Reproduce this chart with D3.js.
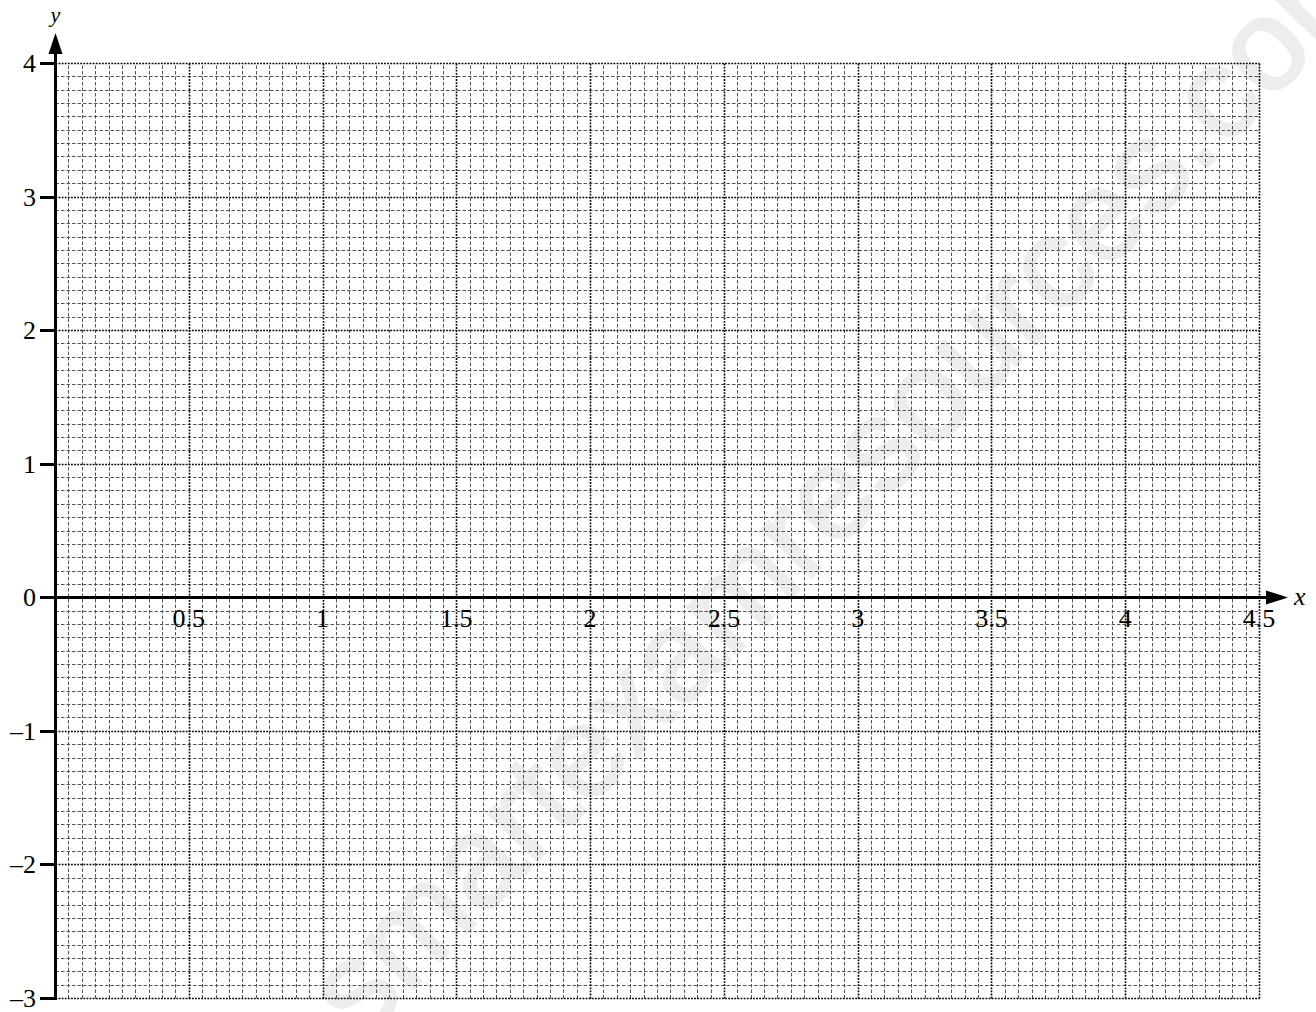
<!DOCTYPE html>
<html>
<head>
<meta charset="utf-8">
<script src="https://cdn.jsdelivr.net/npm/d3@7"></script>
<style>
  body { margin: 0; background: #fff; }
  svg { display: block; }
</style>
</head>
<body>
<div id="viz"></div>
<script>
//-------The "Data"-----------
var xDomain = [0, 4.5];
var yDomain = [-3, 4];
var xTickValues = [0.5, 1, 1.5, 2, 2.5, 3, 3.5, 4, 4.5];
var xTickLabels = ["0.5", "1", "1.5", "2", "2.5", "3", "3.5", "4", "4.5"];
var yTickValues = [-3, -2, -1, 0, 1, 2, 3, 4];
var yTickLabels = ["–3", "–2", "–1", "0", "1", "2", "3", "4"];
var minorStepX = 0.05, majorStepX = 0.5;
var minorStepY = 0.1, majorStepY = 1;
var watermark = "smartexamresources.com";

//---------------------------------
var width = 1316,
    height = 1012;
var serif = "'Liberation Serif', 'Times New Roman', Times, serif";

var svg = d3.select("#viz")
  .append("svg")
    .attr("width", width)
    .attr("height", height);

var xScale = d3.scaleLinear().domain(xDomain).range([55, 1259]);
var yScale = d3.scaleLinear().domain(yDomain).range([998, 63]);
// snap to pixel centres so the 1px dashes stay crisp
var px = v => Math.round(xScale(v)) + 0.5;
var py = v => Math.round(yScale(v)) + 0.5;

//------Watermark (under the grid)-----------
svg.append("text")
  .attr("transform", "translate(362,1042) rotate(-46)")
  .style("font-family", "'Liberation Sans', Arial, sans-serif")
  .style("font-size", "129px")
  .attr("fill", "#ededed")
  .attr("stroke", "#ededed")
  .attr("stroke-width", 3)
  .text(watermark);

//------Grid-----------
var grid = svg.append("g").attr("id", "grid");

var nX = Math.round((xDomain[1] - xDomain[0]) / minorStepX);
var nY = Math.round((yDomain[1] - yDomain[0]) / minorStepY);
var perMajorX = Math.round(majorStepX / minorStepX);
var perMajorY = Math.round(majorStepY / minorStepY);

var vLines = d3.range(1, nX + 1).map(i => ({v: xDomain[0] + i * minorStepX, major: i % perMajorX === 0}));
var hLines = d3.range(0, nY + 1).map(i => ({v: yDomain[0] + i * minorStepY, major: i % perMajorY === 0}));

function styleLine(sel) {
  sel.attr("stroke", d => d.major ? "#000" : "#555")
     .attr("stroke-width", d => d.major ? 1.6 : 1)
     .attr("stroke-dasharray", d => d.major ? "1.8,1.3" : "3.5,2")
     .attr("fill", "none");
}

grid.selectAll("line.h")
  .data(hLines.filter(d => !d.major))
  .enter().append("line")
    .attr("class", "h")
    .attr("x1", px(xDomain[0])).attr("x2", px(xDomain[1]))
    .attr("y1", d => py(d.v)).attr("y2", d => py(d.v))
    .call(styleLine);

grid.selectAll("line.v")
  .data(vLines.filter(d => !d.major))
  .enter().append("line")
    .attr("class", "v")
    .attr("x1", d => px(d.v)).attr("x2", d => px(d.v))
    .attr("y1", py(yDomain[0])).attr("y2", py(yDomain[1]))
    .call(styleLine);

grid.selectAll("line.hm")
  .data(hLines.filter(d => d.major))
  .enter().append("line")
    .attr("class", "hm")
    .attr("x1", px(xDomain[0])).attr("x2", px(xDomain[1]))
    .attr("y1", d => py(d.v)).attr("y2", d => py(d.v))
    .call(styleLine);

grid.selectAll("line.vm")
  .data(vLines.filter(d => d.major))
  .enter().append("line")
    .attr("class", "vm")
    .attr("x1", d => px(d.v)).attr("x2", d => px(d.v))
    .attr("y1", py(yDomain[0])).attr("y2", py(yDomain[1]))
    .call(styleLine);

//------Axes-----------
var axisG = svg.append("g").attr("id", "axes");
var x0 = px(0), y0 = py(0);

// y axis line + arrow
axisG.append("line")
  .attr("x1", x0).attr("x2", x0)
  .attr("y1", py(yDomain[0]) + 1.5).attr("y2", 50)
  .attr("stroke", "#000").attr("stroke-width", 3);
axisG.append("path")
  .attr("d", "M" + x0 + ",33 L" + (x0 - 7) + ",54 L" + (x0 + 7) + ",54 Z")
  .attr("fill", "#000");

// x axis line + arrow
axisG.append("line")
  .attr("x1", 40).attr("x2", 1270)
  .attr("y1", y0).attr("y2", y0)
  .attr("stroke", "#000").attr("stroke-width", 3);
axisG.append("path")
  .attr("d", "M1288," + y0 + " L1266," + (y0 - 7) + " L1266," + (y0 + 7) + " Z")
  .attr("fill", "#000");

// y ticks
axisG.selectAll("line.ytick")
  .data(yTickValues)
  .enter().append("line")
    .attr("class", "ytick")
    .attr("x1", 40).attr("x2", x0)
    .attr("y1", d => py(d)).attr("y2", d => py(d))
    .attr("stroke", "#000").attr("stroke-width", 3);

axisG.selectAll("text.ylab")
  .data(yTickValues)
  .enter().append("text")
    .attr("class", "ylab")
    .attr("x", 36)
    .attr("y", d => yScale(d) + 9)
    .attr("text-anchor", "end")
    .style("font-family", serif)
    .style("font-size", "26px")
    .text((d, i) => yTickLabels[i]);

axisG.selectAll("text.xlab")
  .data(xTickValues)
  .enter().append("text")
    .attr("class", "xlab")
    .attr("x", d => xScale(d))
    .attr("y", y0 + 29)
    .attr("text-anchor", "middle")
    .style("font-family", serif)
    .style("font-size", "26px")
    .text((d, i) => xTickLabels[i]);

axisG.append("text")
  .attr("x", x0).attr("y", 22)
  .attr("text-anchor", "middle")
  .style("font-family", serif)
  .style("font-style", "italic")
  .style("font-size", "22px")
  .text("y");

axisG.append("text")
  .attr("x", 1294).attr("y", y0 + 7)
  .style("font-family", serif)
  .style("font-style", "italic")
  .style("font-size", "26px")
  .text("x");
</script>
</body>
</html>
